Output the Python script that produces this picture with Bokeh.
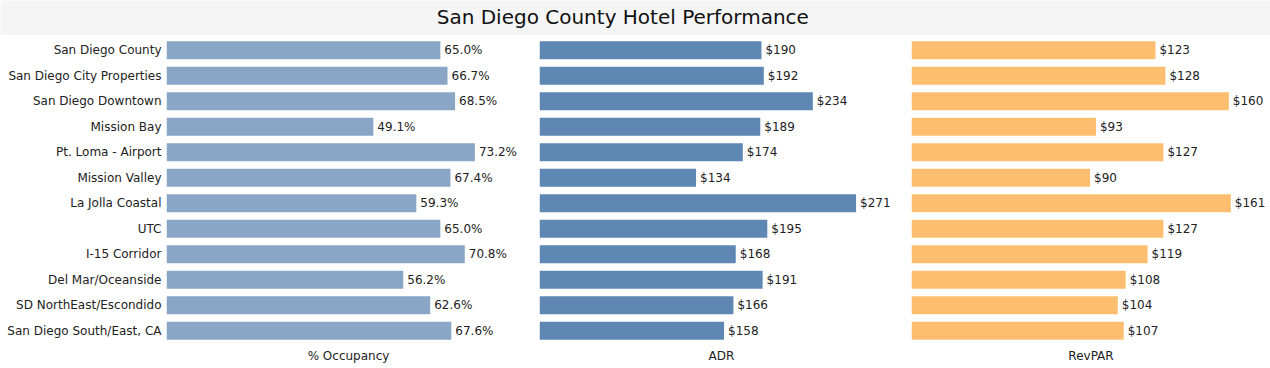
from bokeh.plotting import figure
from bokeh.layouts import column, row
from bokeh.models import ColumnDataSource, FactorRange, FixedTicker, Label, Range1d
from bokeh.core.properties import value
from bokeh.embed import file_html
from bokeh.resources import INLINE

categories = ["San Diego County", "San Diego City Properties", "San Diego Downtown",
              "Mission Bay", "Pt. Loma - Airport", "Mission Valley", "La Jolla Coastal",
              "UTC", "I-15 Corridor", "Del Mar/Oceanside", "SD NorthEast/Escondido",
              "San Diego South/East, CA"]
occupancy = [65.0, 66.7, 68.5, 49.1, 73.2, 67.4, 59.3, 65.0, 70.8, 56.2, 62.6, 67.6]
adr = [190, 192, 234, 189, 174, 134, 271, 195, 168, 191, 166, 158]
revpar = [123, 128, 160, 93, 127, 90, 161, 127, 119, 108, 104, 107]

occ_labels = [f"{v:.1f}%" for v in occupancy]
adr_labels = [f"${v}" for v in adr]
revpar_labels = [f"${v}" for v in revpar]

FONT = "DejaVu Sans"
TXT = "#222222"

y_range = FactorRange(factors=list(reversed(categories)))


def panel(vals, labels, color, xlabel, xend, width, left, show_y):
    src = ColumnDataSource(dict(cat=categories, val=vals, lab=labels))
    p = figure(width=width, height=333, y_range=y_range, x_range=Range1d(0, xend),
               toolbar_location=None, output_backend="svg",
               min_border_left=left, min_border_right=0, min_border_top=2,
               min_border_bottom=25)
    p.hbar(y="cat", right="val", left=0, height=0.7, source=src,
           fill_color=color, line_color=None)
    p.text(x="val", y="cat", text="lab", source=src, x_offset=4,
           text_baseline="middle", text_align="left", text_font_size="12px",
           text_font=value(FONT), text_color=TXT)
    p.outline_line_color = None
    p.ygrid.grid_line_color = None
    p.xgrid.ticker = FixedTicker(ticks=[0])
    p.xgrid.grid_line_color = "#dddddd"
    p.xgrid.grid_line_dash = "2 2"
    p.xaxis.ticker = FixedTicker(ticks=[])
    p.xaxis.axis_line_color = None
    p.xaxis.major_tick_line_color = None
    p.xaxis.minor_tick_line_color = None
    p.xaxis.axis_label = xlabel
    p.xaxis.axis_label_text_font = FONT
    p.xaxis.axis_label_text_font_size = "12px"
    p.xaxis.axis_label_text_font_style = "normal"
    p.xaxis.axis_label_text_color = TXT
    p.xaxis.axis_label_standoff = 5
    if show_y:
        p.yaxis.axis_line_color = None
        p.yaxis.major_tick_line_color = None
        p.yaxis.minor_tick_line_color = None
        p.yaxis.major_tick_out = 0
        p.yaxis.major_label_standoff = 5
        p.yaxis.major_label_text_font = FONT
        p.yaxis.major_label_text_font_size = "12px"
        p.yaxis.major_label_text_color = TXT
    else:
        p.yaxis.visible = False
    return p


p1 = panel(occupancy, occ_labels, "#8aa6c6", "% Occupancy", 86.4, 530, 166, True)
p2 = panel(adr, adr_labels, "#5e87b4", "ADR", 311.6, 373, 9, False)
p3 = panel(revpar, revpar_labels, "#fdbf6f", "RevPAR", 181.0, 367, 8, False)

t = figure(width=1270, height=35, x_range=(0, 1), y_range=(0, 1),
           toolbar_location=None, output_backend="svg", min_border=0)
t.axis.visible = False
t.grid.visible = False
t.outline_line_color = None
t.background_fill_color = "#f5f5f5"
t.border_fill_color = "#f5f5f5"
t.add_layout(Label(x=0.49, y=0.52, text="San Diego County Hotel Performance",
                   text_align="center", text_baseline="middle",
                   text_font_size="20px", text_font=FONT, text_color="#111111"))

layout = column(t, row(p1, p2, p3))

open("out.html", "w").write(file_html(layout, INLINE))
